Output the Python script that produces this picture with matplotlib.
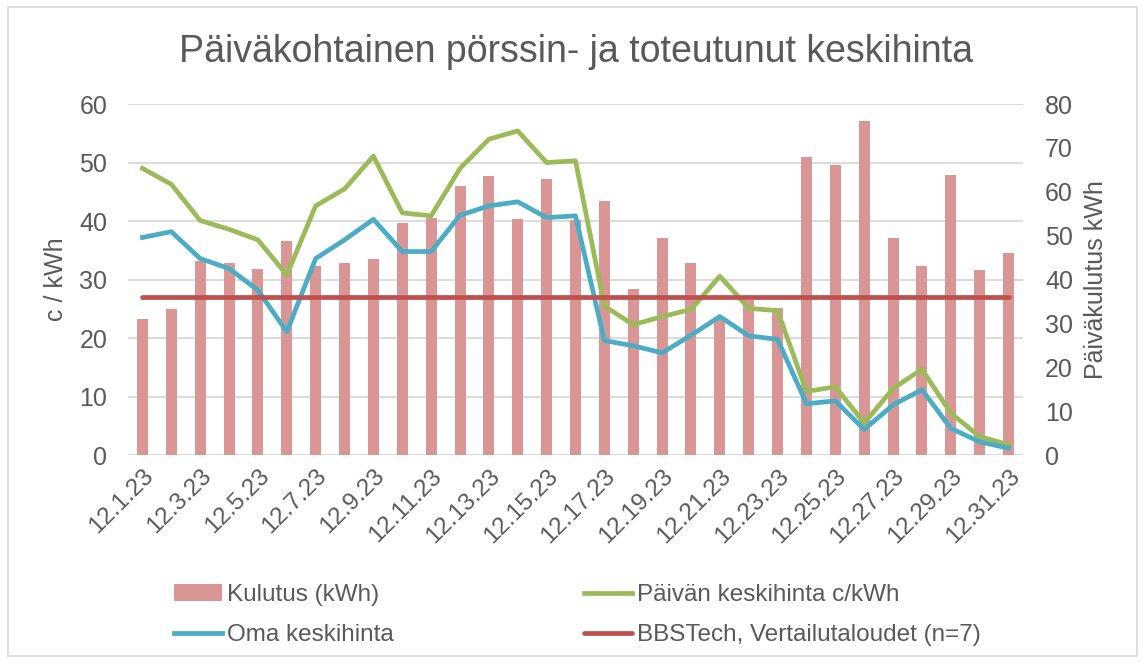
import matplotlib
matplotlib.use('Agg')
import matplotlib.pyplot as plt
from matplotlib.patches import Rectangle

plt.rcParams['font.family'] = ['Liberation Sans', 'DejaVu Sans']

# colours
pink = '#DA9694'
green = '#9BBB59'
blue = '#4BACC6'
red = '#C0504D'
grid = '#D9D9D9'
txt = '#595959'

days = [f'12.{d}.23' for d in range(1, 32)]
kulutus = [31.0, 33.3, 44.2, 43.8, 42.5, 48.7, 43.0, 43.9, 44.7, 52.8,
           54.0, 61.3, 63.5, 53.8, 63.0, 53.6, 58.0, 37.9, 49.4, 43.8,
           31.0, 35.4, 33.5, 67.9, 66.1, 76.2, 49.5, 43.0, 63.8, 42.2, 46.0]
paivan = [49.0, 46.3, 40.1, 38.6, 36.8, 30.8, 42.6, 45.5, 51.1, 41.4,
          40.9, 49.0, 54.0, 55.4, 50.0, 50.3, 25.5, 22.3, 23.7, 24.9,
          30.6, 25.1, 24.7, 10.9, 11.7, 5.5, 11.4, 14.7, 7.2, 3.2, 1.8]
oma = [37.2, 38.2, 33.6, 31.9, 28.2, 21.1, 33.6, 36.8, 40.3, 34.8,
       34.8, 41.0, 42.6, 43.3, 40.6, 40.9, 19.6, 18.7, 17.5, 20.5,
       23.7, 20.4, 19.8, 8.8, 9.3, 4.4, 8.6, 11.2, 4.6, 2.3, 1.2]
vertailu = [27.0] * 31

x = list(range(len(days)))

fig = plt.figure(figsize=(11.43, 6.63), dpi=100)
fig.patches.append(Rectangle((0.007, 0.011), 0.988, 0.979, transform=fig.transFigure,
                             fill=False, ec=grid, lw=1.2))

# base axes: left scale + grid
ax = fig.add_axes([0.112, 0.3133, 0.783, 0.5298])
ax.set_xlim(-0.5, 30.5)
ax.set_ylim(0, 60)
ax.set_yticks(range(0, 61, 10))
ax.grid(axis='y', color=grid, lw=1.3)
ax.set_axisbelow(True)
for s in ax.spines.values():
    s.set_visible(False)
ax.tick_params(axis='y', length=0, labelsize=18, colors=txt, pad=15)
ax.set_ylabel('c / kWh', fontsize=18, color=txt, labelpad=8)
ax.set_xticks(x[::2])
ax.set_xticklabels(days[::2], rotation=45, ha='right', rotation_mode='anchor',
                   fontsize=17.5, color=txt)
ax.tick_params(axis='x', length=0, pad=7)

# bars on right scale
axb = ax.twinx()
axb.bar(x, kulutus, width=0.38, color=pink, label='Kulutus (kWh)')
axb.set_ylim(0, 80)
axb.set_yticks(range(0, 81, 10))
axb.tick_params(axis='y', length=0, labelsize=18, colors=txt, pad=16)
axb.set_ylabel('Päiväkulutus kWh', fontsize=18, color=txt, labelpad=8)
for s in axb.spines.values():
    s.set_visible(False)

# lines on top, left scale
axl = ax.twinx()
axl.set_ylim(0, 60)
axl.set_xlim(-0.5, 30.5)
axl.axis('off')
axl.plot(x, paivan, color=green, lw=3.4, label='Päivän keskihinta c/kWh')
axl.plot(x, oma, color=blue, lw=3.4, label='Oma keskihinta')
axl.plot(x, vertailu, color=red, lw=3.4, label='BBSTech, Vertailutaloudet (n=7)',
         solid_capstyle='round')

ax.set_title('Päiväkohtainen pörssin- ja toteutunut keskihinta', fontsize=27,
             color=txt, pad=30)

h1, l1 = axb.get_legend_handles_labels()
h2, l2 = axl.get_legend_handles_labels()
handles = [h1[0], h2[1], h2[0], h2[2]]
labels = [l1[0], l2[1], l2[0], l2[2]]
fig.legend(handles, labels, ncol=2, loc='center', bbox_to_anchor=(0.505, 0.072),
           frameon=False, fontsize=17.5, labelcolor=txt, handlelength=2.0,
           handletextpad=0.2, columnspacing=7.8, labelspacing=0.75)

fig.savefig('out.png', dpi=100)
